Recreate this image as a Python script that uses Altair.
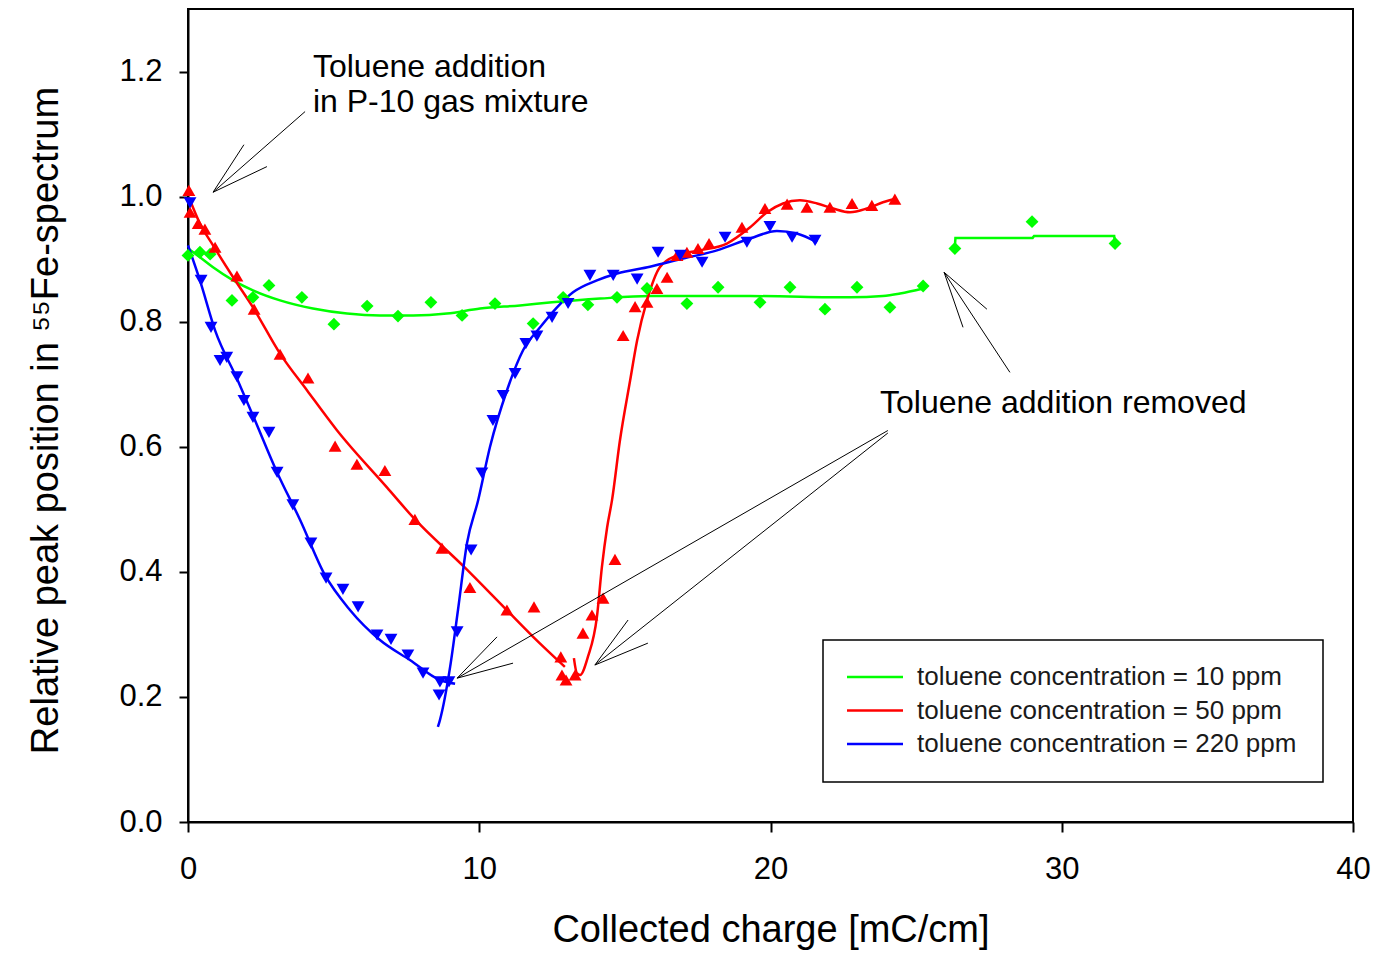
import altair as alt
import pandas as pd

SERIES = ["10 ppm", "50 ppm", "220 ppm"]
COLORS = ["#00ff00", "#ff0000", "#0000ff"]
SHAPES = ["diamond", "triangle-up", "triangle-down"]
LEGEND_LABELS = ["toluene concentration = 10 ppm",
                 "toluene concentration = 50 ppm",
                 "toluene concentration = 220 ppm"]
X_TICKS = [0, 10, 20, 30, 40]
Y_TICKS = [0.0, 0.2, 0.4, 0.6, 0.8, 1.0, 1.2]

# measured points
green_x = [0, 0.41, 0.76, 1.51, 2.23, 2.78, 3.91, 5.01, 6.15, 7.21, 8.34, 9.41, 10.54, 11.85,
           12.88, 13.73, 14.73, 15.76, 17.13, 18.2, 19.64, 20.67, 21.87, 22.97, 24.1, 25.24,
           26.33, 28.98, 31.83]
green_y = [0.906, 0.911, 0.908, 0.834, 0.839, 0.858, 0.839, 0.796, 0.825, 0.809, 0.831, 0.810,
           0.829, 0.797, 0.839, 0.827, 0.839, 0.853, 0.829, 0.855, 0.831, 0.855, 0.820, 0.855,
           0.823, 0.857, 0.917, 0.960, 0.925]

red_x = [0.03, 0.07, 0.35, 0.58, 0.93, 1.68, 2.27, 3.16, 4.12, 5.05, 5.8, 6.76, 7.79, 8.72, 9.68,
         10.95, 11.88, 12.8, 12.84, 12.98, 13.29, 13.56, 13.87, 14.25, 14.66, 14.94, 15.35, 15.76,
         16.1, 16.45, 16.79, 17.13, 17.51, 17.89, 19.02, 19.81, 20.57, 21.25, 22.04, 22.8, 23.48,
         24.27]
red_y = [1.010, 0.975, 0.957, 0.948, 0.919, 0.873, 0.820, 0.748, 0.710, 0.601, 0.572, 0.562,
         0.484, 0.438, 0.375, 0.339, 0.344, 0.264, 0.235, 0.227, 0.235, 0.302, 0.331, 0.358,
         0.420, 0.778, 0.824, 0.831, 0.853, 0.871, 0.906, 0.911, 0.917, 0.925, 0.951, 0.981,
         0.988, 0.983, 0.983, 0.989, 0.986, 0.996]

blue_x = [0.07, 0.45, 0.79, 1.1, 1.33, 1.68, 1.92, 2.23, 2.78, 3.06, 3.6, 4.22, 4.74, 5.32, 5.84,
          6.49, 6.97, 7.55, 8.07, 8.65, 8.96, 8.62, 9.24, 9.72, 10.09, 10.47, 10.82, 11.23, 11.6,
          11.98, 12.5, 13.05, 13.8, 14.6, 15.42, 16.14, 16.9, 17.65, 18.44, 19.19, 19.98, 20.74,
          21.53]
blue_y = [0.990, 0.866, 0.791, 0.738, 0.743, 0.712, 0.674, 0.647, 0.623, 0.559, 0.507, 0.446,
          0.390, 0.372, 0.344, 0.299, 0.292, 0.267, 0.238, 0.224, 0.224, 0.203, 0.304, 0.435,
          0.558, 0.642, 0.682, 0.717, 0.765, 0.777, 0.807, 0.829, 0.874, 0.874, 0.868, 0.911,
          0.906, 0.895, 0.935, 0.927, 0.952, 0.935, 0.930]

# fitted curves
green_fit1_x = [0, 0.41, 0.86, 1.55, 2.23, 3.16, 4.29, 5.46, 6.59, 7.73, 8.89, 10.03, 11.4, 12.5,
                14.15, 15.86, 19.3, 22.73, 23.86, 24.45, 25.24]
green_fit1_y = [0.917, 0.903, 0.887, 0.866, 0.850, 0.834, 0.821, 0.813, 0.810, 0.810, 0.813,
                0.821, 0.826, 0.831, 0.837, 0.841, 0.841, 0.839, 0.841, 0.845, 0.853]
green_fit2_x = [26.33, 26.35, 29.0, 29.05, 31.8, 31.83]
green_fit2_y = [0.920, 0.934, 0.934, 0.937, 0.937, 0.925]

red_fit1_x = [0.03, 0.41, 0.86, 1.55, 2.23, 3.16, 4.09, 5.12, 6.83, 7.73, 9.5, 10.71, 11.85, 12.94]
red_fit1_y = [0.999, 0.957, 0.922, 0.871, 0.823, 0.749, 0.690, 0.626, 0.535, 0.487, 0.407, 0.350,
              0.296, 0.248]
red_fit2_x = [13.25, 13.35, 13.46, 13.73, 14.04, 14.21, 14.39, 14.56, 14.83, 15.18, 15.42, 15.76,
              16.2, 16.79, 17.58, 18.5, 19.3, 19.88, 20.43, 21.01, 21.6, 22.15, 22.73, 23.31,
              23.86, 24.34]
red_fit2_y = [0.262, 0.238, 0.235, 0.264, 0.328, 0.407, 0.471, 0.515, 0.610, 0.706, 0.770, 0.834,
              0.887, 0.906, 0.914, 0.925, 0.951, 0.975, 0.989, 0.994, 0.989, 0.981, 0.975, 0.981,
              0.991, 0.997]

blue_fit1_x = [0, 0.41, 0.93, 1.68, 2.23, 3.06, 3.85, 4.7, 5.56, 6.59, 7.62, 8.65, 9.17]
blue_fit1_y = [0.922, 0.866, 0.786, 0.709, 0.650, 0.559, 0.483, 0.395, 0.339, 0.291, 0.259, 0.227,
               0.221]
blue_fit2_x = [8.58, 8.65, 9.0, 9.27, 9.58, 9.96, 10.37, 10.95, 11.5, 12.09, 12.67, 13.22, 14.04,
               14.73, 15.86, 17.0, 18.16, 19.3, 20.22, 20.9, 21.6]
blue_fit2_y = [0.152, 0.163, 0.248, 0.339, 0.446, 0.514, 0.600, 0.690, 0.754, 0.791, 0.823, 0.847,
               0.866, 0.877, 0.888, 0.901, 0.914, 0.933, 0.945, 0.941, 0.927]

# annotation arrows (data units)
arrow_x0 = [4.02, 0.86, 0.86, 28.22, 25.96, 25.96, 24.03, 9.24, 9.24, 24.03, 13.97, 13.97]
arrow_y0 = [1.136, 1.007, 1.007, 0.719, 0.879, 0.879, 0.626, 0.230, 0.230, 0.622, 0.251, 0.251]
arrow_x1 = [0.86, 1.92, 2.71, 25.96, 26.61, 27.43, 9.24, 10.61, 11.16, 13.97, 15.11, 15.79]
arrow_y1 = [1.007, 1.083, 1.048, 0.879, 0.791, 0.820, 0.230, 0.296, 0.254, 0.251, 0.323, 0.286]

note_text = ["Toluene addition", "in P-10 gas mixture", "Toluene addition removed"]
note_x = [4.29, 4.29, 23.76]
note_y = [1.208, 1.152, 0.670]

# ---------- tables ----------
pts = pd.DataFrame({
    "series": [SERIES[0]] * len(green_x) + [SERIES[1]] * len(red_x) + [SERIES[2]] * len(blue_x),
    "x": green_x + red_x + blue_x,
    "y": green_y + red_y + blue_y,
})

def seg(name, s, xs, ys):
    return pd.DataFrame({"segment": name, "series": s, "x": xs, "y": ys})

fits_smooth = pd.concat([
    seg("g1", SERIES[0], green_fit1_x, green_fit1_y),
    seg("r1", SERIES[1], red_fit1_x, red_fit1_y),
    seg("r2", SERIES[1], red_fit2_x, red_fit2_y),
    seg("b1", SERIES[2], blue_fit1_x, blue_fit1_y),
    seg("b2", SERIES[2], blue_fit2_x, blue_fit2_y),
])
fits_step = seg("g2", SERIES[0], green_fit2_x, green_fit2_y)

arrows = pd.DataFrame({"x": arrow_x0, "y": arrow_y0, "x2": arrow_x1, "y2": arrow_y1})
notes = pd.DataFrame({"x": note_x, "y": note_y, "text": note_text})
legend_df = pd.DataFrame({"label": LEGEND_LABELS, "color": COLORS, "row": [0, 1, 2]})

FONT = "Liberation Sans"

x_enc = alt.X("x:Q", scale=alt.Scale(domain=[0, 40], nice=False, zero=False),
              axis=alt.Axis(values=X_TICKS, format="d", tickSize=10, labelPadding=22,
                            labelFlush=False, labelOverlap=False,
                            title="Collected charge [mC/cm]", titleY=119,
                            titleBaseline="alphabetic", titleFontSize=38))
y_enc = alt.Y("y:Q", scale=alt.Scale(domain=[0, 1.3], nice=False, zero=False),
              axis=alt.Axis(values=Y_TICKS, format=".1f", tickSize=9, labelPadding=17,
                            labelFlush=False, labelOverlap=False,
                            title="Relative peak position in \u2075\u2075Fe-spectrum",
                            titleX=-131, titleY=411, titleBaseline="alphabetic",
                            titleFontSize=38))

color_enc = alt.Color("series:N", scale=alt.Scale(domain=SERIES, range=COLORS), legend=None)

smooth = alt.Chart(fits_smooth).mark_line(interpolate="monotone", strokeWidth=2.5).encode(
    x=x_enc, y=y_enc, color=color_enc, detail="segment:N")
step = alt.Chart(fits_step).mark_line(strokeWidth=2.5).encode(
    x=x_enc, y=y_enc, color=color_enc, detail="segment:N")
points = alt.Chart(pts).mark_point(filled=True, size=165, opacity=1).encode(
    x=x_enc, y=y_enc, color=color_enc,
    shape=alt.Shape("series:N", scale=alt.Scale(domain=SERIES, range=SHAPES), legend=None))

arrow_layer = alt.Chart(arrows).mark_rule(color="black", strokeWidth=1).encode(
    x=x_enc, y=y_enc, x2="x2:Q", y2="y2:Q")
note_layer = alt.Chart(notes).mark_text(align="left", baseline="middle", fontSize=32,
                                        font=FONT, color="black").encode(
    x=x_enc, y=y_enc, text="text:N")

box = alt.Chart(pd.DataFrame({"a": [0]})).mark_rect(fill="white", stroke="black",
                                                    strokeWidth=1.5).encode(
    x=alt.value(635), x2=alt.value(1135), y=alt.value(631), y2=alt.value(773))
leg_base = alt.Chart(legend_df).transform_calculate(ypix="668 + datum.row * 33.5")
leg_lines = leg_base.mark_rule(strokeWidth=2.5).encode(
    x=alt.value(659), x2=alt.value(715), y=alt.Y("ypix:Q", scale=None),
    color=alt.Color("color:N", scale=None))
leg_text = leg_base.mark_text(align="left", baseline="middle", fontSize=26, font=FONT,
                              color="#1a1a1a").encode(
    x=alt.value(729), y=alt.Y("ypix:Q", scale=None), text="label:N")

chart = alt.layer(smooth, step, points, arrow_layer, note_layer, box, leg_lines, leg_text).properties(
    width=1165, height=813,
    autosize=alt.AutoSizeParams(type="none"),
    padding={"left": 180, "top": 1, "right": 19, "bottom": 128},
).configure_view(stroke="black", strokeWidth=2).configure_axis(
    domainColor="black", domainWidth=2, tickColor="black", tickWidth=2, grid=False,
    labelFont=FONT, labelFontSize=31, labelColor="black",
    titleFont=FONT, titleColor="black", titleFontWeight="normal",
)

chart.save("out.html", embed_options={"renderer": "svg", "actions": False})
